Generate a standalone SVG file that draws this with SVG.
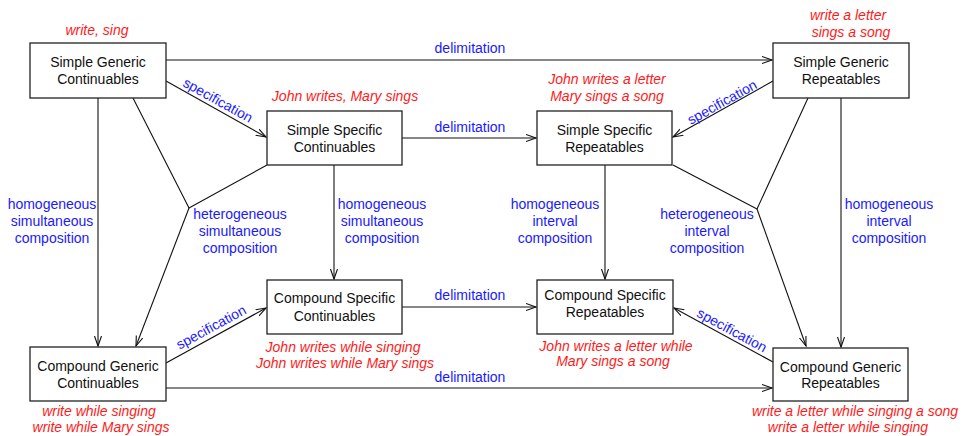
<svg xmlns="http://www.w3.org/2000/svg" width="962" height="436" viewBox="0 0 962 436">
<style>
text{font-family:"Liberation Sans",Arial,sans-serif;font-size:14px;text-anchor:middle}
.box{fill:#fff;stroke:#222;stroke-width:1.3}
.n{fill:#111}
.lab{fill:#1a1aff}
.ex{fill:#ff1a1a;font-style:italic}
.ln{fill:none;stroke:#111;stroke-width:1.1}
.ar{marker-end:url(#ah)}
</style>
<defs>
<marker id="ah" markerUnits="userSpaceOnUse" markerWidth="12" markerHeight="10" refX="10" refY="4" orient="auto">
<path d="M0,0.5 L10,4 L0,7.5" fill="none" stroke="#111" stroke-width="1.1"/>
</marker>
</defs>
<rect width="962" height="436" fill="#fff"/>
<g id="connectors">
<line class="ln ar" x1="166" y1="60" x2="772" y2="60"/>
<line class="ln ar" x1="402" y1="138" x2="536" y2="138"/>
<line class="ln ar" x1="402" y1="307" x2="536" y2="307"/>
<line class="ln ar" x1="166" y1="388" x2="772" y2="388"/>
<line class="ln ar" x1="166" y1="81" x2="266" y2="137"/>
<line class="ln ar" x1="773" y1="81" x2="673" y2="137"/>
<line class="ln ar" x1="166" y1="363" x2="266" y2="308"/>
<line class="ln ar" x1="773" y1="362" x2="674" y2="308"/>
<line class="ln ar" x1="98" y1="98" x2="98" y2="346"/>
<line class="ln ar" x1="334" y1="165" x2="334" y2="279"/>
<line class="ln ar" x1="605" y1="165" x2="605" y2="279"/>
<line class="ln ar" x1="841" y1="98" x2="841" y2="347"/>
<polyline class="ln" points="133,98 189,208 267,165"/>
<line class="ln ar" x1="189" y1="208" x2="136" y2="346"/>
<polyline class="ln" points="808,98 757,209 673,165"/>
<line class="ln ar" x1="757" y1="209" x2="806" y2="346"/>
<text class="lab" x="470" y="53">delimitation</text>
<text class="lab" x="470" y="132">delimitation</text>
<text class="lab" x="470" y="300">delimitation</text>
<text class="lab" x="470" y="382">delimitation</text>
<text class="lab" transform="translate(218,100) rotate(29)" y="5">specification</text>
<text class="lab" transform="translate(722,102) rotate(-29)" y="5">specification</text>
<text class="lab" transform="translate(211,327) rotate(-28.6)" y="5">specification</text>
<text class="lab" transform="translate(732,330) rotate(28.4)" y="5">specification</text>
<text class="lab" x="52" y="209">homogeneous</text>
<text class="lab" x="52" y="226">simultaneous</text>
<text class="lab" x="52" y="243">composition</text>
<text class="lab" x="382" y="209">homogeneous</text>
<text class="lab" x="382" y="226">simultaneous</text>
<text class="lab" x="382" y="243">composition</text>
<text class="lab" x="555" y="209">homogeneous</text>
<text class="lab" x="555" y="226">interval</text>
<text class="lab" x="555" y="243">composition</text>
<text class="lab" x="889" y="209">homogeneous</text>
<text class="lab" x="889" y="226">interval</text>
<text class="lab" x="889" y="243">composition</text>
<text class="lab" x="240" y="219">heterogeneous</text>
<text class="lab" x="240" y="236">simultaneous</text>
<text class="lab" x="240" y="253">composition</text>
<text class="lab" x="707" y="219">heterogeneous</text>
<text class="lab" x="707" y="236">interval</text>
<text class="lab" x="707" y="253">composition</text>
</g>
<g id="sgc">
<rect class="box" x="30" y="43" width="136" height="55"/>
<text class="n" x="98" y="67">Simple Generic</text>
<text class="n" x="98" y="84">Continuables</text>
<text class="ex" x="97" y="35">write, sing</text>
</g>
<g id="ssc">
<rect class="box" x="267" y="111" width="135" height="54"/>
<text class="n" x="334.5" y="135">Simple Specific</text>
<text class="n" x="334.5" y="152">Continuables</text>
<text class="ex" x="345" y="101">John writes, Mary sings</text>
</g>
<g id="ssr">
<rect class="box" x="537" y="111" width="135" height="54"/>
<text class="n" x="604.5" y="135">Simple Specific</text>
<text class="n" x="604.5" y="152">Repeatables</text>
<text class="ex" x="607" y="84">John writes a letter</text>
<text class="ex" x="607" y="101">Mary sings a song</text>
</g>
<g id="sgr">
<rect class="box" x="773" y="43" width="136" height="55"/>
<text class="n" x="841" y="67">Simple Generic</text>
<text class="n" x="841" y="84">Repeatables</text>
<text class="ex" x="848" y="20">write a letter</text>
<text class="ex" x="851" y="37">sings a song</text>
</g>
<g id="cgc">
<rect class="box" x="30" y="347" width="136" height="54"/>
<text class="n" x="98" y="371">Compound Generic</text>
<text class="n" x="98" y="388">Continuables</text>
<text class="ex" x="99" y="416">write while singing</text>
<text class="ex" x="101" y="432">write while Mary sings</text>
</g>
<g id="csc">
<rect class="box" x="267" y="280" width="135" height="54"/>
<text class="n" x="334.5" y="303">Compound Specific</text>
<text class="n" x="334.5" y="321">Continuables</text>
<text class="ex" x="343" y="352">John writes while singing</text>
<text class="ex" x="345" y="368">John writes while Mary sings</text>
</g>
<g id="csr">
<rect class="box" x="537" y="280" width="136" height="54"/>
<text class="n" x="605" y="300">Compound Specific</text>
<text class="n" x="605" y="317">Repeatables</text>
<text class="ex" x="616" y="351">John writes a letter while</text>
<text class="ex" x="613" y="366">Mary sings a song</text>
</g>
<g id="cgr">
<rect class="box" x="773" y="348" width="135" height="53"/>
<text class="n" x="840.5" y="372">Compound Generic</text>
<text class="n" x="840.5" y="388">Repeatables</text>
<text class="ex" x="855" y="416">write a letter while singing a song</text>
<text class="ex" x="848" y="432">write a letter while singing</text>
</g>
</svg>
